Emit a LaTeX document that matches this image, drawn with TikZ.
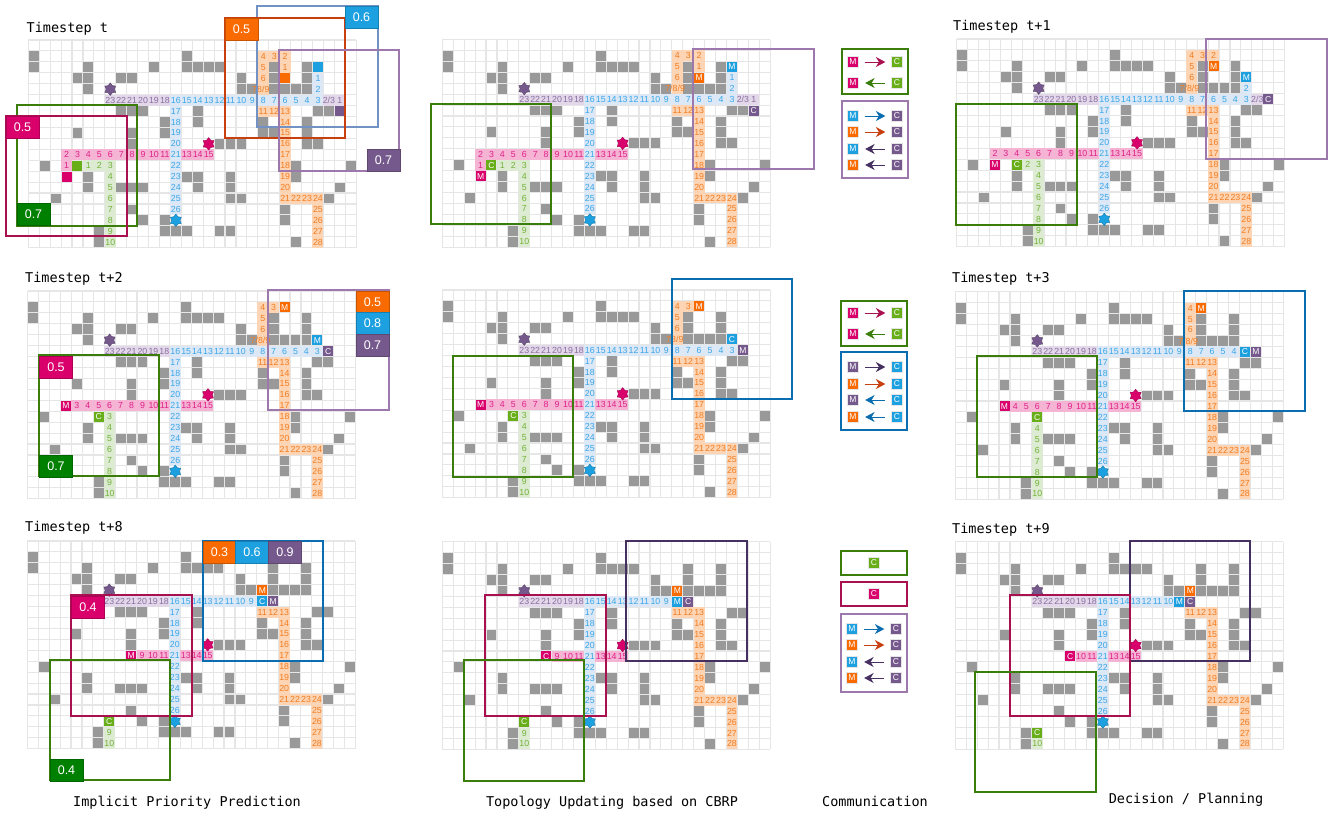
\documentclass[tikz,border=0pt]{standalone}
\usepackage{fontspec}
\setmainfont{Liberation Sans}
\newfontfamily\captionfont{DejaVu Sans Mono}
\usetikzlibrary{shapes.geometric,arrows.meta}

\definecolor{gridgrey}{HTML}{E6E6E6}
\definecolor{blockgrey}{HTML}{999999}
\definecolor{pinkmain}{HTML}{D9006C}
\definecolor{pinklight}{HTML}{F6B4D4}
\definecolor{pinktext}{HTML}{DE2088}
\definecolor{pinkline}{HTML}{A81050}
\definecolor{greenmain}{HTML}{68AE18}
\definecolor{greenlight}{HTML}{DDEBD2}
\definecolor{greentext}{HTML}{72B238}
\definecolor{greenline}{HTML}{3A7D0A}
\definecolor{greentag}{HTML}{008000}
\definecolor{bluemain}{HTML}{1CA0E0}
\definecolor{bluelight}{HTML}{DCE8F6}
\definecolor{bluetext}{HTML}{38A6EA}
\definecolor{blueline}{HTML}{0A6DB0}
\definecolor{bluefade}{HTML}{7392C4}
\definecolor{orangemain}{HTML}{F96A00}
\definecolor{orangelight}{HTML}{FDD5B4}
\definecolor{orangetext}{HTML}{F27C20}
\definecolor{orangeline}{HTML}{C84010}
\definecolor{purplemain}{HTML}{75598C}
\definecolor{purplelight}{HTML}{E3D8E9}
\definecolor{purpletext}{HTML}{8A6EA2}
\definecolor{purpleline}{HTML}{9C78AC}
\definecolor{purpledark}{HTML}{453060}

\tikzset{
    gridline/.style={draw=gridgrey, line width=1.1pt},
    cellbox/.style={rectangle, inner sep=0pt, minimum width=10.9pt, minimum height=10.9pt, font=\fontsize{8.8}{9}\selectfont},
    pinkcell/.style={cellbox, fill=pinklight, text=pinktext},
    greencell/.style={cellbox, fill=greenlight, text=greentext},
    bluecell/.style={cellbox, fill=bluelight, text=bluetext},
    orangecell/.style={cellbox, fill=orangelight, text=orangetext},
    purplecell/.style={cellbox, fill=purplelight, text=purpletext},
    agentbox/.style={rectangle, inner sep=0pt, minimum size=10pt, text=white, font=\fontsize{8.5}{9}\selectfont},
    goalstar/.style={star, star points=6, star point ratio=1.5, inner sep=0pt, minimum size=12.5pt, draw=#1!75!black, fill=#1},
    window/.style={draw=#1, line width=1.7pt},
    valuetag/.style={rectangle, inner sep=0pt, minimum width=33pt, minimum height=22pt, text=white, draw=#1!80!black, fill=#1, line width=.7pt, font=\fontsize{12.5}{13}\selectfont},
    steplabel/.style={anchor=west, inner sep=0pt, font=\captionfont\fontsize{13.5}{14}\selectfont},
    rowlabel/.style={inner sep=0pt, font=\captionfont\fontsize{13.5}{14}\selectfont},
    commcell/.style={rectangle, inner sep=0pt, minimum size=10.5pt, text=white, draw=gridgrey, line width=.8pt, font=\fontsize{8.5}{9}\selectfont},
    linkto/.style={-{Stealth[length=9.5pt,width=10pt]}, line width=1pt, shorten >=6pt, shorten <=6.5pt, draw=#1},
    linkback/.style={{Stealth[length=9.5pt,width=10pt]}-, line width=1pt, shorten >=6pt, shorten <=6.5pt, draw=#1},
}

\def\blockcells{0/1,14/1,0/2,5/2,11/2,14/2,15/2,16/2,17/2,22/2,25/2,4/3,5/3,8/3,9/3,19/3,22/3,25/3,5/4,19/4,20/4,22/4,23/4,24/4,25/4,8/6,9/6,10/6,15/6,26/6,27/6,12/7,15/7,21/7,25/7,4/8,9/8,12/8,21/8,22/8,25/8,9/9,17/9,18/9,19/9,25/9,26/9,1/11,24/11,29/11,5/12,14/12,15/12,18/12,24/12,5/13,8/13,9/13,10/13,15/13,18/13,28/13,2/14,18/14,19/14,27/14,9/15,23/15,10/16,12/16,23/16,6/17,12/17,13/17,14/17,17/17,18/17,6/18,24/18}

\def\pinkroute{3/11/1,3/10/2,4/10/3,5/10/4,6/10/5,7/10/6,8/10/7,9/10/8,10/10/9,11/10/10,12/10/11,14/10/13,15/10/14,16/10/15}
\def\greenroute{5/11/1,6/11/2,7/11/3,7/12/4,7/13/5,7/14/6,7/15/7,7/16/8,7/17/9,7/18/10}
\def\blueroute{26/3/1,26/4/2,26/5/3,25/5/4,24/5/5,23/5/6,22/5/7,21/5/8,20/5/9,19/5/10,18/5/11,17/5/12,16/5/13,15/5/14,14/5/15,13/5/16,13/6/17,13/7/18,13/8/19,13/9/20,13/10/21,13/11/22,13/12/23,13/13/24,13/14/25,13/15/26}
\def\orangeroute{23/2/1,23/1/2,22/1/3,21/1/4,21/2/5,21/3/6,21/6/11,22/6/12,23/6/13,23/7/14,23/8/15,23/9/16,23/10/17,23/11/18,23/12/19,23/13/20,23/14/21,24/14/22,25/14/23,26/14/24,26/15/25,26/16/26,26/17/27,26/18/28}
\def\purpleroute{12/5/18,11/5/19,10/5/20,9/5/21,8/5/22,7/5/23}

\newcommand{\routecells}[3]{
    \foreach \c/\r/\t in #1 {
        \ifnum\t<#2\relax\else
            \node (#3\c-\r) [#3cell] at (\c+.5,\r+.5) {\t};
        \fi
    }
}
\newcommand{\agent}[4]{\node (agent#1-#2) [agentbox, fill=#3] at (#1+.5,#2+.5) {#4};}
\newcommand{\orangesplit}{
    \node (or721) [orangecell] at (21.5,4.5) {8/9};
    \node (or720) [cellbox, text=orangetext] at (20.7,4.5) {7};
}
\newcommand{\orangejoint}{
    \node (or721) [orangecell] at (21.5,4.5) {};
    \node (or720) [cellbox, text=orangetext] at (21.3,4.5) {7/8/9};
}
\newcommand{\purplestart}{
    \node (pu281) [purplecell] at (28.5,5.5) {1};
}
\newcommand{\purplenext}{
    \node (pu272) [purplecell] at (27.5,5.5) {2/3};
}

% x, y, then the first number kept on the pink, green, blue and orange routes
\newcommand{\mapstate}[7]{
    \begin{scope}[shift={(#1,#2)}, x=10.93pt, y=-10.93pt]
        \foreach \i in {0,...,30} \draw[gridline] (\i,0) -- (\i,19);
        \foreach \i in {0,...,19} \draw[gridline] (0,\i) -- (30,\i);
        \foreach \c/\r in \blockcells \fill[blockgrey] (\c+.05,\r+.05) rectangle (\c+.95,\r+.95);
        \routecells{\purpleroute}{0}{purple}
        \routecells{\orangeroute}{#6}{orange}
        \routecells{\pinkroute}{#3}{pink}
        \routecells{\greenroute}{#4}{green}
        \routecells{\blueroute}{#5}{blue}
        #7
        \node (goalpurple) [goalstar=purplemain] at (7.5,4.5) {};
        \node (goalpink) [goalstar=pinkmain] at (16.5,9.5) {};
        \node (goalblue) [goalstar=bluemain] at (13.5,16.5) {};
    \end{scope}
}
\newcommand{\commlink}[6]{
    \node (m#1) [commcell, fill=#3] at (#5,#2) {M};
    \node (c#1) [commcell, fill=#4] at (#5+44,#2) {C};
    \draw[#6] (m#1) -- (c#1);
}

\begin{document}
\begin{tikzpicture}[x=1pt, y=-1pt]
    \useasboundingbox (0,0) rectangle (1340,812);

    \mapstate{28.3}{40}{1}{1}{1}{1}{\orangesplit\purplestart\purplenext
        \agent{3}{12}{pinkmain}{} \agent{4}{11}{greenmain}{} \agent{26}{2}{bluemain}{} \agent{23}{3}{orangemain}{} \agent{28}{6}{purplemain}{}}
    \mapstate{442.3}{39.5}{1}{1}{1}{1}{\orangejoint\purplestart\purplenext
        \agent{3}{12}{pinkmain}{M} \agent{4}{11}{greenmain}{C} \agent{26}{2}{bluemain}{M} \agent{23}{3}{orangemain}{M} \agent{28}{6}{purplemain}{C}}
    \mapstate{956.7}{39}{2}{2}{2}{2}{\orangejoint\purplenext
        \agent{3}{11}{pinkmain}{M} \agent{5}{11}{greenmain}{C} \agent{26}{3}{bluemain}{M} \agent{23}{2}{orangemain}{M} \agent{28}{5}{purplemain}{C}}

    \mapstate{27.7}{291}{3}{3}{3}{3}{\orangejoint
        \agent{3}{10}{pinkmain}{M} \agent{6}{11}{greenmain}{C} \agent{26}{4}{bluemain}{M} \agent{23}{1}{orangemain}{M} \agent{27}{5}{purplemain}{C}}
    \mapstate{442.3}{290}{3}{3}{3}{3}{\orangesplit
        \agent{3}{10}{pinkmain}{M} \agent{6}{11}{greenmain}{C} \agent{26}{4}{bluemain}{C} \agent{23}{1}{orangemain}{M} \agent{27}{5}{purplemain}{M}}
    \mapstate{955.3}{291.7}{4}{4}{4}{4}{\orangejoint
        \agent{4}{10}{pinkmain}{M} \agent{7}{11}{greenmain}{C} \agent{26}{5}{bluemain}{C} \agent{22}{1}{orangemain}{M} \agent{27}{5}{purplemain}{M}}

    \mapstate{27.3}{541}{9}{9}{9}{11}{
        \agent{9}{10}{pinkmain}{M} \agent{7}{16}{greenmain}{C} \agent{21}{5}{bluemain}{C} \agent{21}{4}{orangemain}{M} \agent{22}{5}{purplemain}{M}}
    \mapstate{442.3}{541.7}{9}{9}{9}{11}{
        \agent{9}{10}{pinkmain}{C} \agent{7}{16}{greenmain}{C} \agent{21}{5}{bluemain}{M} \agent{21}{4}{orangemain}{M} \agent{22}{5}{purplemain}{C}}
    \mapstate{955.3}{541.7}{10}{10}{10}{11}{
        \agent{10}{10}{pinkmain}{C} \agent{7}{17}{greenmain}{C} \agent{20}{5}{bluemain}{M} \agent{21}{4}{orangemain}{M} \agent{21}{5}{purplemain}{C}}

    \draw[window=greenline] (17,105) rectangle (137,226);
    \draw[window=pinkline] (6,116) rectangle (127,236);
    \draw[window=bluefade] (257,6) rectangle (378,127);
    \draw[window=orangeline] (225,18) rectangle (345,138);
    \draw[window=purpleline] (279,50) rectangle (399,171);
    \node (tag1a) [valuetag=pinkmain] at (22.5,127) {0.5};
    \node (tag1b) [valuetag=greentag] at (33.5,214.5) {0.7};
    \node (tag1c) [valuetag=orangemain] at (241.5,29) {0.5};
    \node (tag1d) [valuetag=bluemain] at (361.5,17.5) {0.6};
    \node (tag1e) [valuetag=purplemain] at (383.5,160) {0.7};
    \draw[window=greenline] (431,104) rectangle (551,224);
    \draw[window=purpleline] (693,49) rectangle (814,169);
    \draw[window=greenline] (956,104) rectangle (1077,225);
    \draw[window=purpleline] (1206,39) rectangle (1327,159);

    \draw[window=greenline] (39,355) rectangle (159,476);
    \draw[window=purpleline] (268,290) rectangle (389,410);
    \node (tag2a) [valuetag=pinkmain] at (56,367) {0.5};
    \node (tag2b) [valuetag=greentag] at (56,466) {0.7};
    \node (tag2c) [valuetag=orangemain] at (372.5,302) {0.5};
    \node (tag2d) [valuetag=bluemain] at (372.5,323.5) {0.8};
    \node (tag2e) [valuetag=purplemain] at (372.5,345.5) {0.7};
    \draw[window=greenline] (453,356) rectangle (573,477);
    \draw[window=blueline] (672,279) rectangle (792,399);
    \draw[window=greenline] (977,356) rectangle (1097,477);
    \draw[window=blueline] (1184,291) rectangle (1305,411);

    \draw[window=pinkline] (71,595) rectangle (192,716);
    \draw[window=greenline] (50,660) rectangle (170,780);
    \draw[window=blueline] (203,541) rectangle (323,661);
    \node (tag3a) [valuetag=pinkmain] at (88,607) {0.4};
    \node (tag3b) [valuetag=greentag] at (66.5,770) {0.4};
    \node (tag3c) [valuetag=orangemain] at (219.5,552.5) {0.3};
    \node (tag3d) [valuetag=bluemain] at (252,552.5) {0.6};
    \node (tag3e) [valuetag=purplemain] at (285,552.5) {0.9};
    \draw[window=purpledark] (626,541) rectangle (747,661);
    \draw[window=pinkline] (485,595) rectangle (606,716);
    \draw[window=greenline] (464,660) rectangle (584,781);
    \draw[window=purpledark] (1130,541) rectangle (1250,661);
    \draw[window=pinkline] (1010,595) rectangle (1130,716);
    \draw[window=greenline] (975,672) rectangle (1096,792);

    \draw[window=greenline] (842,49) rectangle (908,94);
    \commlink{a1}{62}{pinkmain}{greenmain}{853}{linkto=pinkline}
    \commlink{a2}{83}{pinkmain}{greenmain}{853}{linkback=greenline}
    \draw[window=purpleline] (842,101) rectangle (908,178);
    \commlink{a3}{116}{bluemain}{purplemain}{853}{linkto=blueline}
    \commlink{a4}{132}{orangemain}{purplemain}{853}{linkto=orangeline}
    \commlink{a5}{149}{bluemain}{purplemain}{853}{linkback=purpledark}
    \commlink{a6}{165}{orangemain}{purplemain}{853}{linkback=purpledark}

    \draw[window=greenline] (841,301) rectangle (907,346);
    \commlink{b1}{313}{pinkmain}{greenmain}{853}{linkto=pinkline}
    \commlink{b2}{334}{pinkmain}{greenmain}{853}{linkback=greenline}
    \draw[window=blueline] (841,352) rectangle (907,430);
    \commlink{b3}{367}{purplemain}{bluemain}{853}{linkto=purpledark}
    \commlink{b4}{384}{orangemain}{bluemain}{853}{linkto=orangeline}
    \commlink{b5}{400}{purplemain}{bluemain}{853}{linkback=blueline}
    \commlink{b6}{417}{orangemain}{bluemain}{853}{linkback=blueline}

    \draw[window=greenline] (841,551) rectangle (907,575);
    \node (c1) [commcell, fill=greenmain] at (874,563) {C};
    \draw[window=pinkline] (841,582) rectangle (907,606);
    \node (c2) [commcell, fill=pinkmain] at (874,594) {C};
    \draw[window=purpleline] (841,614) rectangle (907,692);
    \commlink{d3}{629}{bluemain}{purplemain}{852}{linkto=blueline}
    \commlink{d4}{645}{orangemain}{purplemain}{852}{linkto=orangeline}
    \commlink{d5}{662}{bluemain}{purplemain}{852}{linkback=purpledark}
    \commlink{d6}{678}{orangemain}{purplemain}{852}{linkback=purpledark}

    \node (step1) [steplabel] at (26.5,29) {Timestep t};
    \node (step2) [steplabel] at (953,27) {Timestep t+1};
    \node (step3) [steplabel] at (25,279) {Timestep t+2};
    \node (step4) [steplabel] at (952,279) {Timestep t+3};
    \node (step5) [steplabel] at (25,528) {Timestep t+8};
    \node (step6) [steplabel] at (952,530) {Timestep t+9};

    \node (row1) [rowlabel] at (187,803) {Implicit Priority Prediction};
    \node (row2) [rowlabel] at (612,803) {Topology Updating based on CBRP};
    \node (row3) [rowlabel] at (875,801) {Communication};
    \node (row4) [rowlabel] at (1186,800) {Decision / Planning};
\end{tikzpicture}
\end{document}
